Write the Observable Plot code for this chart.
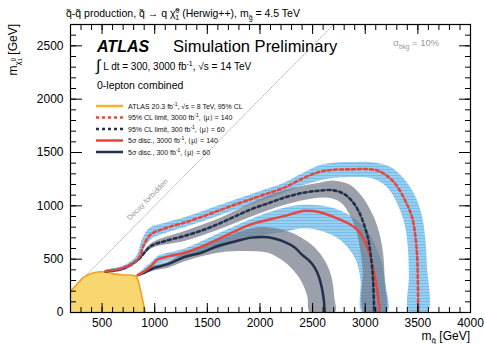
<!DOCTYPE html>
<html><head><meta charset="utf-8">
<script src="https://cdn.jsdelivr.net/npm/d3@7"></script>
<script src="https://cdn.jsdelivr.net/npm/@observablehq/plot@0.6"></script>
<style>
body{margin:0;background:#fff;}
#chart svg{display:block;}
</style></head><body><div id="chart"></div>
<script>
// ---- axis ticks ----
const xMajorTicks = [500, 1000, 1500, 2000, 2500, 3000, 3500, 4000];
const xMinorTicks = d3.range(300, 4000, 100);
const yMajorTicks = [0, 500, 1000, 1500, 2000, 2500];
const yMinorTicks = d3.range(100, 2700, 100);

// ---- ATLAS 20.3 fb-1, 8 TeV excluded region ----
const atlas8TeV = [[200,0],[200,190],[260,262],[324,330],[400,366],[486,382],[550,377],[611,362],[706,352],[790,350],[822,338],[845,290],[862,220],[880,140],[898,60],[912,0]];

// ---- 95% CL limit, 3000 fb-1 (red dotted) ----
const cl3000 = [[534,387],[700,418],[840,500],[900,640],[964,733],[1100,790],[1282,843],[1450,898],[1600,953],[1760,1010],[1919,1064],[2080,1118],[2237,1173],[2396,1252],[2555,1315],[2700,1338],[2873,1342],[3000,1345],[3100,1335],[3180,1300],[3284,1208],[3380,1048],[3446,888],[3478,700],[3494,510],[3500,300],[3504,0]];
const cl3000Up = [[534,405],[700,440],[820,525],[880,690],[950,795],[1100,842],[1282,892],[1600,1002],[1919,1112],[2237,1222],[2396,1302],[2555,1378],[2700,1405],[2900,1412],[3100,1405],[3250,1360],[3380,1240],[3480,1080],[3540,900],[3570,700],[3585,450],[3590,0]];
const cl3000Dn = [[534,370],[700,395],[830,470],[890,590],[964,686],[1100,745],[1282,800],[1600,905],[1919,1017],[2237,1125],[2396,1190],[2555,1236],[2700,1260],[2900,1270],[3050,1262],[3150,1220],[3250,1120],[3330,960],[3380,800],[3405,600],[3415,350],[3418,0]];

// ---- 95% CL limit, 300 fb-1 (navy dotted) ----
const cl300 = [[534,384],[700,412],[840,494],[964,623],[1100,670],[1282,717],[1450,770],[1600,828],[1760,900],[1919,969],[2080,1025],[2237,1079],[2400,1120],[2555,1142],[2700,1145],[2800,1110],[2870,1050],[2937,950],[2990,820],[3030,680],[3060,470],[3075,290],[3085,0]];
const cl300Up = [[534,398],[700,428],[840,512],[964,650],[1282,765],[1600,880],[1919,1030],[2237,1150],[2555,1215],[2711,1236],[2850,1200],[2960,1100],[3060,940],[3130,760],[3170,550],[3185,300],[3190,0]];
const cl300Dn = [[534,372],[700,398],[840,478],[964,600],[1282,670],[1600,775],[1919,900],[2237,1010],[2555,1075],[2680,1070],[2780,1020],[2850,920],[2910,780],[2950,600],[2975,400],[2988,0]];

// ---- 5 sigma discovery, 3000 fb-1 (red solid) ----
const disc3000 = [[840,350],[900,385],[964,434],[1028,497],[1126,525],[1282,560],[1450,620],[1600,686],[1760,760],[1919,828],[2080,870],[2237,906],[2428,953],[2550,945],[2714,890],[2850,830],[2937,765],[3000,660],[3040,560],[3070,440],[3093,330],[3115,200],[3130,80],[3135,0]];
const disc3000Up = [[840,365],[964,470],[1028,530],[1282,600],[1600,740],[1919,880],[2237,985],[2428,1010],[2600,1000],[2750,960],[2900,880],[3020,770],[3100,620],[3160,450],[3195,250],[3207,0]];
const disc3000Dn = [[840,340],[964,400],[1028,450],[1282,529],[1600,600],[1919,700],[2237,760],[2428,790],[2600,760],[2750,690],[2850,590],[2920,470],[2955,300],[2970,0]];

// ---- 5 sigma discovery, 300 fb-1 (navy solid) ----
const disc300 = [[840,350],[900,372],[1000,420],[1126,453],[1282,520],[1441,560],[1600,623],[1760,665],[1919,702],[2078,705],[2237,660],[2330,610],[2396,545],[2463,490],[2520,420],[2558,340],[2590,220],[2606,120],[2615,0]];
const disc300Up = [[840,360],[1000,440],[1126,480],[1282,560],[1600,680],[1919,790],[2078,800],[2237,770],[2396,700],[2520,610],[2620,480],[2680,330],[2705,150],[2711,0]];
const disc300Dn = [[840,340],[1000,395],[1126,420],[1282,480],[1600,560],[1919,575],[2078,560],[2237,470],[2330,380],[2400,280],[2450,150],[2475,0]];

// ---- legend ----
const legendLabels = [
  ["ATLAS 20.3 fb", "-1", ", \u221As = 8 TeV, 95% CL"],
  ["95% CL limit, 3000 fb", "-1", ", \u27E8\u03BC\u27E9 = 140"],
  ["95% CL limit, 300 fb", "-1", ", \u27E8\u03BC\u27E9 = 60"],
  ["5\u03C3 disc., 3000 fb", "-1", ", \u27E8\u03BC\u27E9 = 140"],
  ["5\u03C3 disc., 300 fb", "-1", ", \u27E8\u03BC\u27E9 = 60"]
];

const RED = "#e8453c", NAVY = "#22304a", ORANGE = "#f2a024";
const DOT = "3,3";
const band = (up, dn) => [...up, ...dn.slice().reverse()];
const X = d => d[0], Y = d => d[1];
const fmt = d => String(d);

const chart = Plot.plot({
  width: 484, height: 344,
  marginLeft: 70, marginRight: 14, marginTop: 24, marginBottom: 32,
  style: {fontFamily: "'Liberation Sans', Arial, sans-serif", fontSize: "12px", background: "#fff"},
  x: {domain: [200, 4000]},
  y: {domain: [0, 2700]},
  marks: [
    // bands
    Plot.line(band(cl3000Up, cl3000Dn), {x: X, y: Y, fill: "url(#bluePat)", stroke: "none", curve: "catmull-rom", clip: true}),
    Plot.line(band(disc3000Up, disc3000Dn), {x: X, y: Y, fill: "url(#bluePat)", stroke: "none", curve: "catmull-rom", clip: true}),
    Plot.line(band(cl300Up, cl300Dn), {x: X, y: Y, fill: "url(#grayPat)", stroke: "none", curve: "catmull-rom", clip: true}),
    Plot.line(band(disc300Up, disc300Dn), {x: X, y: Y, fill: "url(#grayPat)", stroke: "none", curve: "catmull-rom", clip: true}),
    // decay forbidden diagonal
    Plot.line([[200,200],[2700,2700]], {x: X, y: Y, stroke: "#9a9a9a", strokeWidth: 0.8, strokeDasharray: "1.2,1.6", clip: true}),
    // ATLAS 8 TeV
    Plot.line(atlas8TeV, {x: X, y: Y, fill: "url(#orangePat)", stroke: ORANGE, strokeWidth: 1.6, curve: "catmull-rom", clip: true}),
    // center lines
    Plot.line(disc300, {x: X, y: Y, stroke: NAVY, strokeWidth: 2.5, curve: "catmull-rom", clip: true}),
    Plot.line(disc3000, {x: X, y: Y, stroke: RED, strokeWidth: 2.5, curve: "catmull-rom", clip: true}),
    Plot.line(cl300, {x: X, y: Y, stroke: NAVY, strokeWidth: 2.6, strokeDasharray: DOT, curve: "catmull-rom", clip: true}),
    Plot.line(cl3000, {x: X, y: Y, stroke: RED, strokeWidth: 2.6, strokeDasharray: DOT, curve: "catmull-rom", clip: true}),
    // frame & axes (ticks inward)
    Plot.frame({stroke: "black", strokeWidth: 1.2}),
    Plot.axisX(xMajorTicks, {anchor: "bottom", tickSize: -9, fill: "none", label: null}),
    Plot.axisX(xMinorTicks, {anchor: "bottom", tickSize: -5, fill: "none", label: null}),
    Plot.axisX(xMajorTicks, {anchor: "top", tickSize: -9, fill: "none", label: null}),
    Plot.axisX(xMinorTicks, {anchor: "top", tickSize: -5, fill: "none", label: null}),
    Plot.axisX(xMajorTicks, {anchor: "bottom", tickSize: 0, tickPadding: 6, tickFormat: fmt, label: null, fill: "black", fontSize: 12}),
    Plot.axisY(yMajorTicks, {anchor: "left", tickSize: -12, fill: "none", label: null}),
    Plot.axisY(yMinorTicks, {anchor: "left", tickSize: -6, fill: "none", label: null}),
    Plot.axisY(yMajorTicks, {anchor: "right", tickSize: -12, fill: "none", label: null}),
    Plot.axisY(yMinorTicks, {anchor: "right", tickSize: -6, fill: "none", label: null}),
    Plot.axisY(yMajorTicks, {anchor: "left", tickSize: 0, tickPadding: 7, tickFormat: fmt, label: null, fill: "black", fontSize: 12})
  ]
});

const svg = d3.select(chart);
const defs = svg.insert("defs", ":first-child");
// blue band pattern (horizontal stripes)
let p = defs.append("pattern").attr("id", "bluePat").attr("patternUnits", "userSpaceOnUse").attr("width", 4).attr("height", 3);
p.append("rect").attr("width", 4).attr("height", 2).attr("fill", "#52aee6").attr("fill-opacity", 0.8);
p.append("rect").attr("y", 2).attr("width", 4).attr("height", 1).attr("fill", "#52aee6").attr("fill-opacity", 0.4);
// gray band pattern (checker)
p = defs.append("pattern").attr("id", "grayPat").attr("patternUnits", "userSpaceOnUse").attr("width", 2).attr("height", 2);
p.append("rect").attr("width", 1).attr("height", 1).attr("fill", "#4f5668").attr("fill-opacity", 0.85);
p.append("rect").attr("x", 1).attr("y", 1).attr("width", 1).attr("height", 1).attr("fill", "#4f5668").attr("fill-opacity", 0.85);
p.append("rect").attr("x", 1).attr("width", 1).attr("height", 1).attr("fill", "#a7adb8").attr("fill-opacity", 0.55);
p.append("rect").attr("y", 1).attr("width", 1).attr("height", 1).attr("fill", "#a7adb8").attr("fill-opacity", 0.55);
// orange region pattern
p = defs.append("pattern").attr("id", "orangePat").attr("patternUnits", "userSpaceOnUse").attr("width", 2).attr("height", 2);
p.append("rect").attr("width", 2).attr("height", 2).attr("fill", "#fbe597");
p.append("rect").attr("width", 1).attr("height", 1).attr("fill", "#f5c94a");
p.append("rect").attr("x", 1).attr("y", 1).attr("width", 1).attr("height", 1).attr("fill", "#f5c94a");

const FONT = "'Liberation Sans', Arial, sans-serif";
const g = svg.append("g").attr("font-family", FONT).attr("text-anchor", "start").attr("fill", "#000");

// title
let t = g.append("text").attr("x", 66).attr("y", 17).attr("font-size", 10.5);
t.append("tspan").text("q\u0303-q\u0303 production, q\u0303 \u2192 q \u03C7\u0303");
t.append("tspan").attr("dy", -4).attr("font-size", 7).text("0");
t.append("tspan").attr("dx", -4).attr("dy", 7).attr("font-size", 7).text("1");
t.append("tspan").attr("dy", -3).text(" (Herwig++), m");
t.append("tspan").attr("dy", 3).attr("font-size", 7).text("g\u0303");
t.append("tspan").attr("dy", -3).text(" = 4.5 TeV");

// ATLAS label
g.append("text").attr("x", 97).attr("y", 52).attr("font-size", 16).attr("font-weight", "bold").attr("font-style", "italic").text("ATLAS");
g.append("text").attr("x", 173).attr("y", 52).attr("font-size", 16.5).text("Simulation Preliminary");
t = g.append("text").attr("x", 96).attr("y", 70).attr("font-size", 10);
t.append("tspan").attr("font-size", 16).attr("dy", 1).text("\u222B");
t.append("tspan").attr("dy", -1).text(" L dt = 300, 3000 fb");
t.append("tspan").attr("dy", -4).attr("font-size", 7).text("-1");
t.append("tspan").attr("dy", 4).text(", \u221As = 14 TeV");
g.append("text").attr("x", 97).attr("y", 89).attr("font-size", 10.5).text("0-lepton combined");

// sigma bkg
t = g.append("text").attr("x", 393).attr("y", 46).attr("font-size", 9.5).attr("fill", "#9a9a9a");
t.append("tspan").text("\u03C3");
t.append("tspan").attr("dy", 2.5).attr("font-size", 6.5).text("bkg");
t.append("tspan").attr("dy", -2.5).text(" = 10%");

// legend
const legY = [106, 117.5, 129, 140.5, 152];
const legStyles = [
  {stroke: "#f8b133", dash: null},
  {stroke: RED, dash: DOT},
  {stroke: NAVY, dash: DOT},
  {stroke: RED, dash: null},
  {stroke: NAVY, dash: null}
];
legendLabels.forEach((lab, i) => {
  const ln = g.append("line").attr("x1", 96).attr("x2", 123).attr("y1", legY[i]).attr("y2", legY[i])
    .attr("stroke", legStyles[i].stroke).attr("stroke-width", 2.5);
  if (legStyles[i].dash) ln.attr("stroke-dasharray", legStyles[i].dash);
  const tt = g.append("text").attr("x", 128).attr("y", legY[i] + 2.5).attr("font-size", 7).attr("fill", "#111");
  tt.append("tspan").text(lab[0]);
  tt.append("tspan").attr("dy", -3).attr("font-size", 5).text(lab[1]);
  tt.append("tspan").attr("dy", 3).text(lab[2]);
});

// decay forbidden label
const sx = chart.scale("x"), sy = chart.scale("y");
const dpx = sx.apply(1000), dpy = sy.apply(1000);
const ang = Math.atan2(sy.apply(2000) - sy.apply(1000), sx.apply(2000) - sx.apply(1000)) * 180 / Math.PI;
g.append("text").attr("transform", `translate(${dpx - 5},${dpy - 4}) rotate(${ang})`)
  .attr("text-anchor", "middle").attr("font-size", 7.5).attr("fill", "#999").text("Decay forbidden");

// axis titles
t = g.append("text").attr("x", 470).attr("y", 340).attr("text-anchor", "end").attr("font-size", 12);
t.append("tspan").text("m");
t.append("tspan").attr("dy", 3).attr("font-size", 8).text("g\u0303");
t.append("tspan").attr("dy", -3).text(" [GeV]");

t = g.append("text").attr("transform", "translate(17,24) rotate(-90)").attr("text-anchor", "end").attr("font-size", 12);
t.append("tspan").text("m");
t.append("tspan").attr("dy", 3).attr("font-size", 8).text("\u03C7\u0303");
t.append("tspan").attr("dy", -5).attr("font-size", 6).text("0");
t.append("tspan").attr("dx", -3.5).attr("dy", 7).attr("font-size", 6).text("1");
t.append("tspan").attr("dy", -5).text(" [GeV]");

document.getElementById("chart").appendChild(chart);
</script>
</body></html>
